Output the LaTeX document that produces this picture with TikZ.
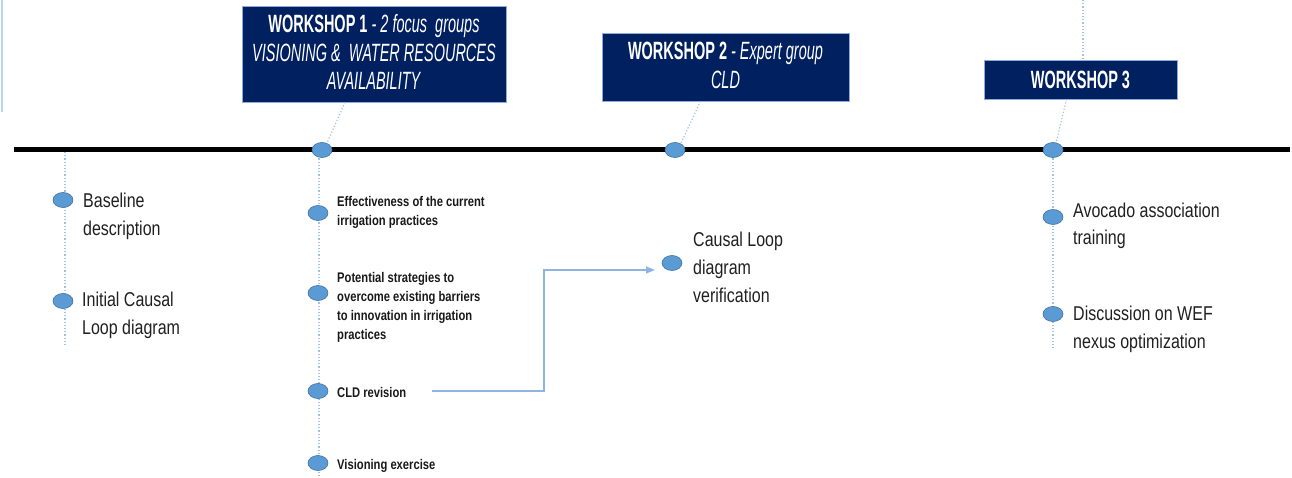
\documentclass[tikz,border=0pt]{standalone}
\usepackage{fontspec}
\setmainfont{Liberation Sans}
\newfontfamily\bodyfont[FakeStretch=0.8]{Liberation Sans}
\newfontfamily\boxfont[FakeStretch=0.58]{Liberation Sans}
\usetikzlibrary{shapes.geometric,arrows.meta}
\definecolor{navy}{HTML}{002060}
\definecolor{navyedge}{HTML}{8FAADC}
\definecolor{dotfill}{HTML}{5B9BD5}
\definecolor{dotedge}{HTML}{41719C}
\definecolor{guide}{HTML}{9DC3E6}
\definecolor{flow}{HTML}{8EB4E3}
\definecolor{bodytext}{HTML}{202020}
\tikzset{
  x=1pt, y=-1pt,
  marker/.style={ellipse, minimum width=20pt, minimum height=15pt, inner sep=0pt,
                 fill=dotfill, draw=dotedge, line width=0.6pt},
  wsbox/.style={rectangle, fill=navy, draw=navyedge, line width=0.6pt, inner sep=0pt},
  wstext/.style={inner sep=0pt, text=white, align=center,
                 font=\boxfont\fontsize{25}{28.5}\selectfont},
  guideline/.style={guide, dotted, line width=1.2pt},
  bigitem/.style={anchor=base west, inner sep=0pt, align=left, text=bodytext,
                  font=\bodyfont\fontsize{20}{28}\selectfont},
  smallitem/.style={anchor=base west, inner sep=0pt, align=left, text=black!90,
                    font=\bodyfont\bfseries\fontsize{14}{19}\selectfont},
  flowline/.style={flow, line width=1.2pt, -{Triangle[length=9pt,width=7pt]}},
}
\begin{document}
\begin{tikzpicture}
\useasboundingbox (0,0) rectangle (1292,478);

% thin pale strip at the left edge
\draw[guide!70, line width=2pt] (1.5,0) -- (1.5,112);

% workshop boxes
\node[wsbox, minimum width=264pt, minimum height=96pt] (w1) at (374,54) {};
\node[wstext] (w1t) at ([yshift=2pt]w1.center)
  {\textbf{WORKSHOP 1}\ \textit{-\ 2 focus\ \ groups}\\
   \textit{VISIONING \&\ \ WATER RESOURCES}\\
   \textit{AVAILABILITY}};
\node[wsbox, minimum width=247pt, minimum height=68pt] (w2) at (725.5,67) {};
\node[wstext] (w2t) at ([yshift=1.5pt]w2.center)
  {\textbf{WORKSHOP 2}\ \textit{-\ Expert group}\\ \textit{CLD}};
\node[wsbox, minimum width=193pt, minimum height=39pt] (w3) at (1080.5,79.5) {};
\node[wstext] (w3t) at (w3.center) {\textbf{WORKSHOP 3}};

% timeline
\coordinate (tlL) at (14,150);
\coordinate (tlR) at (1290,150);
\coordinate (top3) at (1083,0);
\coordinate (end0) at (65,345);
\coordinate (end1) at (319,478);
\coordinate (end3) at (1053,350);
\coordinate (s0) at (65,152);

\draw[guideline] (top3) -- (top3 |- w3.north);
\draw[guideline] ([xshift=-29pt]w1.south) -- (327,143);
\draw[guideline] ([xshift=-25pt]w2.south) -- (681,143);
\draw[guideline] ([xshift=-14pt]w3.south) -- (1056,143);

\draw[guideline] (s0) -- (end0);
\draw[guideline] (319,152) -- (end1);
\draw[guideline] (1053,152) -- (end3);

\draw[black, line width=5pt] (tlL) -- (tlR);

\node[marker] (t1) at (322,150) {};
\node[marker] (t2) at (675,150) {};
\node[marker] (t3) at (1053,150) {};

% phase before the workshops
\node[marker] (a1) at (63,200) {};
\node[bigitem] (ta1) at (83,236) {Baseline\\description};
\node[marker] (a2) at (63,301) {};
\node[bigitem] (ta2) at (82,334) {Initial Causal\\Loop diagram};

% workshop 1 activities
\node[marker] (b1) at (318,213) {};
\node[smallitem] (tb1) at (337,226) {Effectiveness of the current\\irrigation practices};
\node[marker] (b2) at (318,293) {};
\node[smallitem] (tb2) at (337,339) {Potential strategies to\\overcome existing barriers\\to innovation in irrigation\\practices};
\node[marker] (b3) at (318,391) {};
\node[smallitem] (tb3) at (337,397) {CLD revision};
\node[marker] (b4) at (318,463) {};
\node[smallitem] (tb4) at (337,469) {Visioning exercise};

% workshop 2 activity
\node[marker] (c1) at (672,263) {};
\node[bigitem] (tc1) at (693,302) {Causal Loop\\diagram\\verification};

% link from the revision to the verification
\coordinate (arrS) at (432,391);
\coordinate (arrK) at (544,391);
\coordinate (arrE) at (655,270);
\draw[flowline] (arrS) -- (arrK) |- (arrE);

% workshop 3 activities
\node[marker] (d1) at (1053,217) {};
\node[bigitem] (td1) at (1073,245) {Avocado association\\training};
\node[marker] (d2) at (1053,314) {};
\node[bigitem] (td2) at (1073,348) {Discussion on WEF\\nexus optimization};
\end{tikzpicture}
\end{document}
